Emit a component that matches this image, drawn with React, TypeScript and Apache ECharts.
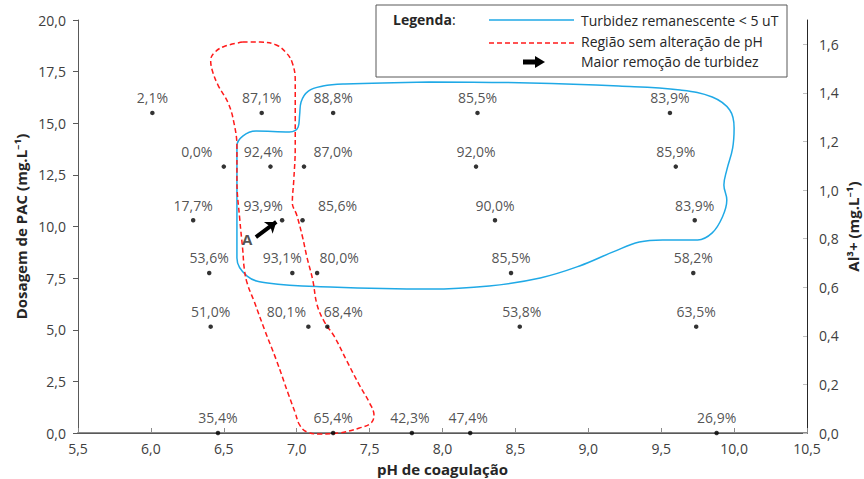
import React, { useEffect, useRef } from "react";
import * as echarts from "echarts";

// Coagulation points: pH, PAC dose (mg/L) and turbidity removal (%)
const phValues = [
  6.01, 6.76, 7.25, 8.24, 9.56,
  6.50, 6.82, 7.05, 8.23, 9.60,
  6.29, 6.90, 7.04, 8.36, 9.73,
  6.40, 6.97, 7.14, 8.47, 9.72,
  6.41, 7.08, 7.21, 8.53, 9.74,
  6.46, 7.25, 7.79, 8.19, 9.88,
];
const doseValues = [
  15.5, 15.5, 15.5, 15.5, 15.5,
  12.9, 12.9, 12.9, 12.9, 12.9,
  10.3, 10.3, 10.3, 10.3, 10.3,
  7.75, 7.75, 7.75, 7.75, 7.75,
  5.15, 5.15, 5.15, 5.15, 5.15,
  0, 0, 0, 0, 0,
];
const removalValues = [
  2.1, 87.1, 88.8, 85.5, 83.9,
  0.0, 92.4, 87.0, 92.0, 85.9,
  17.7, 93.9, 85.6, 90.0, 83.9,
  53.6, 93.1, 80.0, 85.5, 58.2,
  51.0, 80.1, 68.4, 53.8, 63.5,
  35.4, 65.4, 42.3, 47.4, 26.9,
];
// horizontal shift of each percentage label (px), as placed in the original
const labelShiftX = [
  0, 0, 0, 0, 0,
  -27, -7, 29, 0, 0,
  0, -19, 35, 0, 0,
  0, -10, 22, 0, 0,
  0, -22, 16, 2, 0,
  0, 0, -2, -2, 0,
];

// Outline: residual turbidity < 5 uT (pH, dose)
const turbidityOutline = [
  [7.91, 17.0], [8.6, 16.95], [9.21, 16.8], [9.63, 16.61], [9.85, 16.27], [9.97, 15.64],
  [10.0, 14.77], [9.99, 13.8], [9.95, 12.74], [9.93, 12.01], [9.95, 11.28], [9.92, 10.46],
  [9.85, 9.69], [9.75, 9.35], [9.51, 9.35], [9.35, 9.25], [9.17, 8.77], [8.94, 8.09],
  [8.67, 7.51], [8.32, 7.12], [7.91, 6.97], [7.23, 7.07], [6.8, 7.26], [6.66, 7.6],
  [6.59, 8.47], [6.59, 10.31], [6.59, 12.74], [6.59, 13.9], [6.63, 14.38], [6.72, 14.62],
  [6.95, 14.58], [7.01, 14.82], [7.02, 15.4], [7.03, 16.03], [7.08, 16.56], [7.18, 16.8],
  [7.33, 16.9], [7.91, 17.0],
];
// Outline: region without pH change (pH, dose)
const noPhChangeOutline = [
  [6.63, 18.93], [6.75, 18.93], [6.86, 18.79], [6.93, 18.4], [6.97, 17.92], [6.99, 17.09],
  [6.99, 16.13], [6.99, 15.16], [6.99, 13.85], [6.98, 12.25], [6.97, 11.14], [7.0, 10.56],
  [7.04, 9.49], [7.07, 8.52], [7.11, 7.41], [7.14, 6.2], [7.19, 5.38], [7.26, 4.65],
  [7.34, 3.54], [7.43, 2.32], [7.5, 1.45], [7.53, 0.87], [7.51, 0.48], [7.43, 0.24],
  [7.29, 0.0], [7.16, -0.05], [7.07, 0.05], [7.02, 0.39], [6.99, 0.97], [6.94, 1.94],
  [6.86, 3.54], [6.78, 4.99], [6.71, 6.34], [6.66, 7.26], [6.64, 7.99], [6.63, 8.86],
  [6.61, 10.31], [6.59, 12.25], [6.59, 13.85], [6.57, 15.01], [6.53, 15.98], [6.46, 16.85],
  [6.42, 17.58], [6.41, 18.06], [6.44, 18.45], [6.51, 18.74], [6.63, 18.93],
];
// Arrow "A" towards the largest turbidity removal
const arrowStart = [6.72, 9.49];
const arrowEnd = [6.86, 10.22];
const arrowLabelPoint = [6.66, 9.39];

const xTicks = { min: 5.5, max: 10.5, interval: 0.5 };
const yLeftTicks = { min: 0, max: 20, interval: 2.5 };
const yRightTicks = { min: 0, max: 1.7, interval: 0.2 };

const FONT = '"Open Sans", "Noto Sans", sans-serif';
const comma = (v: number, d = 1) => v.toFixed(d).replace(".", ",");

export default function App() {
  const ref = useRef<HTMLDivElement>(null);
  useEffect(() => {
    if (!ref.current) return;
    const chart = echarts.init(ref.current, null, { renderer: "svg" });

    const points = phValues.map((p, i) => ({
      value: [p, doseValues[i], removalValues[i]],
      label: { offset: [labelShiftX[i], 0] },
    }));

    const labelStyle = { fontFamily: FONT, fontSize: 14, color: "#404040" };
    const nameStyle = { fontFamily: FONT, fontSize: 15, fontWeight: "bold", color: "#262626" };

    chart.setOption({
      animation: false,
      backgroundColor: "#ffffff",
      textStyle: { fontFamily: FONT },
      grid: { left: 78, right: 57, top: 20, bottom: 46, containLabel: false, outerBoundsMode: "none" },
      xAxis: [
        {
          type: "value",
          ...xTicks,
          name: "pH de coagulação",
          nameLocation: "middle",
          nameGap: 28,
          nameMoveOverlap: false,
          nameTextStyle: { ...nameStyle, lineHeight: 15 },
          axisLine: { show: true, lineStyle: { color: "#8c8c8c", width: 2 } },
          axisTick: { show: true, inside: true, length: 5, lineStyle: { color: "#8c8c8c" } },
          axisLabel: { ...labelStyle, lineHeight: 14, margin: 8, formatter: (v: number) => comma(v) },
          splitLine: { show: false },
        },
        {
          type: "value",
          ...xTicks,
          position: "top",
          axisLine: { show: true, lineStyle: { color: "#595959", width: 1 } },
          axisTick: { show: false },
          axisLabel: { show: false },
          splitLine: { show: false },
        },
      ],
      yAxis: [
        {
          type: "value",
          ...yLeftTicks,
          name: "Dosagem de PAC (mg.L⁻¹)",
          nameLocation: "middle",
          nameGap: 50,
          nameMoveOverlap: false,
          nameTextStyle: nameStyle,
          axisLine: { show: true, lineStyle: { color: "#595959", width: 1 } },
          axisTick: { show: true, length: 5, lineStyle: { color: "#595959" } },
          axisLabel: { ...labelStyle, margin: 12, formatter: (v: number) => comma(v) },
          splitLine: { show: false },
        },
        {
          type: "value",
          ...yRightTicks,
          position: "right",
          name: "Al³+ (mg.L⁻¹)",
          nameLocation: "middle",
          nameGap: 38,
          nameMoveOverlap: false,
          nameTextStyle: nameStyle,
          axisLine: { show: true, lineStyle: { color: "#262626", width: 1 } },
          axisTick: { show: true, inside: true, length: 4, lineStyle: { color: "#bfbfbf" } },
          axisLabel: { ...labelStyle, margin: 12, showMaxLabel: false, formatter: (v: number) => comma(v) },
          splitLine: { show: false },
        },
      ],
      series: [
        {
          name: "Turbidez remanescente < 5 uT",
          type: "line",
          data: turbidityOutline,
          smooth: 0.4,
          showSymbol: false,
          clip: false,
          lineStyle: { color: "#1fa9e6", width: 1.5 },
          z: 2,
        },
        {
          name: "Região sem alteração de pH",
          type: "line",
          data: noPhChangeOutline,
          smooth: 0.4,
          showSymbol: false,
          clip: false,
          lineStyle: { color: "#ff1a1a", width: 1.5, type: [5, 3] },
          z: 3,
        },
        {
          name: "Remoção de turbidez",
          type: "scatter",
          data: points,
          symbolSize: 4.5,
          itemStyle: { color: "#000000" },
          clip: false,
          z: 5,
          label: {
            show: true,
            position: "top",
            distance: 6,
            fontFamily: FONT,
            fontSize: 14,
            color: "#262626",
            formatter: (p: any) => comma(p.value[2]) + "%",
          },
          markLine: {
            silent: true,
            symbol: ["none", "arrow"],
            symbolSize: [11, 10],
            label: { show: false },
            lineStyle: { color: "#000000", width: 4, type: "solid" },
            data: [[{ coord: arrowStart }, { coord: arrowEnd }]],
          },
        },
        {
          name: "A",
          type: "scatter",
          data: [arrowLabelPoint],
          symbolSize: 0,
          itemStyle: { color: "transparent" },
          z: 6,
          label: {
            show: true,
            position: "inside",
            formatter: "A",
            fontFamily: FONT,
            fontSize: 15,
            fontWeight: "bold",
            color: "#262626",
          },
        },
      ],
      graphic: [
        {
          type: "group",
          z: 100,
          children: [
            {
              type: "rect",
              shape: { x: 376, y: 5, width: 411, height: 72 },
              style: { fill: "#ffffff", stroke: "#595959", lineWidth: 1 },
            },
            {
              type: "text",
              x: 393,
              y: 19,
              style: {
                text: "{b|Legenda}:",
                fill: "#262626",
                fontFamily: FONT,
                fontSize: 14,
                verticalAlign: "middle",
                rich: { b: { fontFamily: FONT, fontSize: 14, fontWeight: "bold", fill: "#262626" } },
              },
            },
            {
              type: "line",
              shape: { x1: 489, y1: 20, x2: 574, y2: 20 },
              style: { stroke: "#1fa9e6", lineWidth: 1.5 },
            },
            {
              type: "text",
              x: 581,
              y: 20,
              style: { text: "Turbidez remanescente < 5 uT", fill: "#262626", fontFamily: FONT, fontSize: 14, verticalAlign: "middle" },
            },
            {
              type: "line",
              shape: { x1: 489, y1: 43, x2: 574, y2: 43 },
              style: { stroke: "#ff1a1a", lineWidth: 1.5, lineDash: [5, 3] },
            },
            {
              type: "text",
              x: 581,
              y: 41,
              style: { text: "Região sem alteração de pH", fill: "#262626", fontFamily: FONT, fontSize: 14, verticalAlign: "middle" },
            },
            {
              type: "line",
              shape: { x1: 523, y1: 62, x2: 537, y2: 62 },
              style: { stroke: "#000000", lineWidth: 5 },
            },
            {
              type: "polygon",
              shape: { points: [[535, 56], [545, 62], [535, 68]] },
              style: { fill: "#000000" },
            },
            {
              type: "text",
              x: 581,
              y: 61,
              style: { text: "Maior remoção de turbidez", fill: "#262626", fontFamily: FONT, fontSize: 14, verticalAlign: "middle" },
            },
          ],
        },
      ],
    });
    return () => chart.dispose();
  }, []);
  return (
    <div
      ref={ref}
      style={{ position: "fixed", left: 0, top: 0, width: 864, height: 479, background: "#ffffff" }}
    />
  );
}
